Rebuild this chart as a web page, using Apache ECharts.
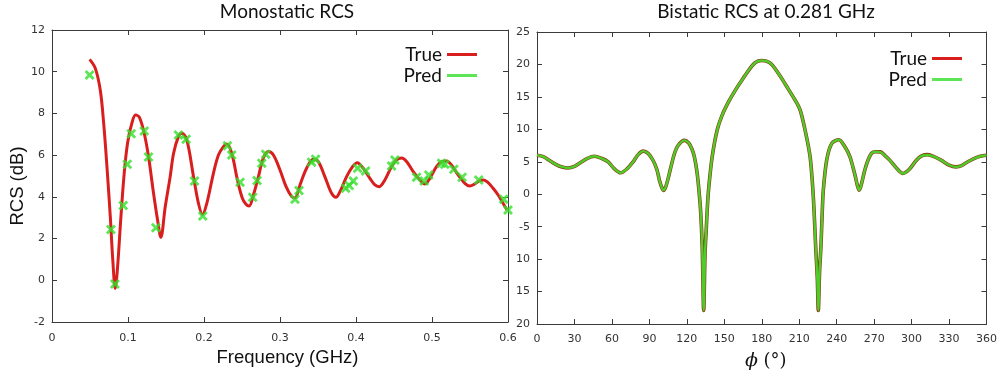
<!DOCTYPE html>
<html>
<head>
<meta charset="utf-8">
<script src="https://cdn.jsdelivr.net/npm/echarts@6/dist/echarts.min.js"></script>
<style>
  html, body { margin: 0; padding: 0; background: #fff; }
  #main { width: 1000px; height: 377px; }
</style>
</head>
<body>
<div id="main"></div>
<script>
// monostatic RCS (left)
const freqTrue = [0.0495, 0.057, 0.0635, 0.068, 0.0723, 0.0767, 0.080, 0.0832, 0.0863, 0.0907, 0.095, 0.0994, 0.105, 0.110, 0.115, 0.1213, 0.127, 0.1336, 0.1389, 0.1432, 0.149, 0.1555, 0.160, 0.1664, 0.171, 0.1774, 0.1862, 0.1927, 0.198, 0.2037, 0.2124, 0.219, 0.2256, 0.230, 0.2365, 0.244, 0.2505, 0.255, 0.2593, 0.265, 0.2716, 0.278, 0.2847, 0.2913, 0.300, 0.308, 0.3154, 0.3197, 0.3263, 0.335, 0.3438, 0.3504, 0.359, 0.3679, 0.3736, 0.3789, 0.3876, 0.3955, 0.4017, 0.4095, 0.4183, 0.4249, 0.4306, 0.438, 0.4468, 0.4533, 0.460, 0.4665, 0.4753, 0.484, 0.4906, 0.4972, 0.5059, 0.5125, 0.519, 0.5256, 0.5344, 0.5432, 0.5497, 0.5563, 0.5629, 0.568, 0.5738, 0.5804, 0.587, 0.5935, 0.5988];
const rcsTrue = [10.59, 10.16, 9.12, 7.52, 5.45, 3.05, 0.97, -0.39, 0.65, 3.05, 5.13, 6.57, 7.52, 7.92, 7.81, 7.05, 5.93, 4.17, 2.89, 2.06, 3.53, 4.97, 6.09, 6.89, 7.05, 6.73, 4.97, 3.69, 3.15, 3.69, 5.13, 6.01, 6.41, 6.53, 6.09, 4.81, 3.93, 3.66, 3.56, 4.09, 4.97, 5.85, 6.17, 6.01, 5.29, 4.49, 4.01, 3.95, 4.57, 5.37, 5.80, 5.69, 4.97, 4.17, 3.98, 4.25, 4.97, 5.45, 5.64, 5.37, 4.89, 4.57, 4.49, 4.81, 5.45, 5.77, 5.86, 5.70, 5.21, 4.81, 4.62, 4.89, 5.45, 5.69, 5.72, 5.53, 5.05, 4.65, 4.52, 4.62, 4.78, 4.81, 4.68, 4.41, 4.09, 3.69, 3.37];
const freqPred = [0.0495, 0.0775, 0.0828, 0.0937, 0.099, 0.1042, 0.1213, 0.127, 0.1367, 0.1664, 0.1765, 0.1875, 0.1984, 0.2308, 0.2365, 0.2475, 0.2641, 0.2698, 0.276, 0.2812, 0.3197, 0.325, 0.3416, 0.3469, 0.3863, 0.3911, 0.3964, 0.4021, 0.4126, 0.4468, 0.4512, 0.4797, 0.4897, 0.4958, 0.5125, 0.5169, 0.5287, 0.5396, 0.5615, 0.5944, 0.6];
const rcsPred = [9.84, 2.44, -0.18, 3.59, 5.56, 7.03, 7.16, 5.91, 2.52, 6.97, 6.76, 4.76, 3.08, 6.45, 6.01, 4.70, 3.98, 4.78, 5.61, 6.04, 3.88, 4.30, 5.66, 5.80, 4.41, 4.54, 4.76, 5.37, 5.24, 5.48, 5.77, 4.94, 4.76, 5.05, 5.61, 5.56, 5.32, 4.94, 4.81, 3.88, 3.37];

// bistatic RCS at 0.281 GHz (right)
const phiDeg = [0, 5, 10, 15, 20, 25, 30, 35, 40, 46, 52, 57, 62, 67, 72, 77, 81, 85, 89, 93, 96, 98, 100, 101.5, 103, 105, 107, 110, 113, 118, 121.5, 124, 126, 128, 129.5, 131, 132.3, 133.5, 134.6, 135.5, 136.5, 137.6, 140.3, 144.3, 148.3, 153.6, 158.9, 164.2, 169.5, 174.9, 180, 186.8, 193.4, 200, 206.7, 210.7, 214.7, 218.7, 221.3, 223.2, 224.5, 225.3, 226.3, 227.4, 228.4, 229.3, 232, 236, 241.8, 246.6, 250.6, 253, 255, 256.8, 258, 259.5, 262.5, 265, 267.8, 271, 275, 278.5, 282.5, 288, 293, 298, 303.7, 308, 313, 318, 323.6, 330, 335.5, 340, 345, 350, 355, 360];
const bistaticTrue = [6.0, 5.8, 5.2, 4.6, 4.2, 4.05, 4.3, 4.9, 5.5, 5.86, 5.5, 4.98, 3.9, 3.3, 3.9, 5.0, 6.1, 6.64, 6.3, 5.2, 3.8, 2.2, 1.0, 0.6, 1.1, 2.4, 4.0, 6.2, 7.5, 8.3, 7.9, 7.0, 5.8, 3.6, 1.0, -2.5, -8.0, -17.9, -9.0, -5.6, -1.8, 1.1, 5.76, 9.9, 12.2, 14.3, 16.05, 17.6, 19.1, 20.3, 20.6, 20.2, 18.6, 16.6, 14.5, 13.0, 9.9, 5.8, -0.4, -8.1, -13.0, -17.9, -12.0, -8.1, -3.0, 0.6, 5.25, 7.8, 8.4, 7.3, 5.8, 4.2, 2.7, 1.2, 0.62, 1.3, 3.7, 5.2, 6.28, 6.55, 6.53, 6.0, 5.25, 4.0, 3.2, 3.8, 5.2, 5.9, 6.1, 5.8, 5.25, 4.5, 4.22, 4.4, 5.0, 5.5, 5.85, 6.0];
const bistaticPred = [6.0, 5.8, 5.2, 4.6, 4.2, 4.05, 4.3, 4.9, 5.5, 5.86, 5.5, 4.98, 3.9, 3.3, 3.9, 5.0, 6.1, 6.64, 6.3, 5.2, 3.8, 2.2, 1.0, 0.6, 1.1, 2.4, 4.0, 6.2, 7.5, 8.3, 7.9, 7.0, 5.8, 3.6, 1.0, -2.5, -8.0, -17.9, -9.0, -5.6, -1.8, 1.1, 5.76, 9.9, 12.2, 14.3, 16.05, 17.6, 19.1, 20.3, 20.6, 20.2, 18.6, 16.6, 14.5, 13.0, 9.9, 5.8, -0.4, -8.1, -13.0, -17.9, -12.0, -8.1, -3.0, 0.6, 5.25, 7.8, 8.4, 7.3, 5.8, 4.2, 2.7, 1.2, 0.62, 1.3, 3.7, 5.2, 6.28, 6.55, 6.5, 6.0, 5.25, 4.0, 3.2, 3.8, 5.2, 5.9, 6.05, 5.8, 5.25, 4.5, 4.2, 4.4, 5.0, 5.5, 5.85, 6.0];

// tick labels on the right y axis, as printed
const bistaticTickValues = [-20, -15, -10, -5, 0, 5, 10, 15, 20, 25];
const bistaticTickLabels = ['20', '15', '10', '-5', '0', '5', '10', '15', '20', '25'];

const zip = (xs, ys) => xs.map((x, i) => [x, ys[i]]);

const RED = '#d91e1e';
const GREEN = '#33e02a';
const AXIS = '#3a3a3a';
// bold "x" marker
const crossSymbol = 'path://M0,2L2,0L5,3L8,0L10,2L7,5L10,8L8,10L5,7L2,10L0,8L3,5Z';

function frameAxis(extra) {
    return Object.assign({
        type: 'value',
        axisLine: { show: true, onZero: false, lineStyle: { color: AXIS, width: 1 } },
        axisTick: { show: true, inside: true, length: 5, lineStyle: { color: AXIS } },
        axisLabel: { show: true, color: '#333', fontFamily: 'DejaVu Sans', fontSize: 11 },
        splitLine: { show: false }
    }, extra);
}
function mirror(extra) {
    const a = frameAxis(extra);
    a.axisLabel = { show: false };
    return a;
}

const chart = echarts.init(document.getElementById('main'), null, { renderer: 'canvas' });

const option = {
    backgroundColor: '#fff',
    animation: false,
    title: [
        { text: 'Monostatic RCS', left: 287, top: 2, textAlign: 'center', padding: 0,
          textStyle: { fontFamily: 'Lato', fontWeight: 'normal', fontSize: 19, color: '#111' } },
        { text: 'Bistatic RCS at 0.281 GHz', left: 766, top: 2, textAlign: 'center', padding: 0,
          textStyle: { fontFamily: 'Lato', fontWeight: 'normal', fontSize: 19, color: '#111' } }
    ],
    legend: [
        { orient: 'vertical', align: 'right', right: 523, top: 45, itemGap: 2, padding: 0,
          itemWidth: 30, itemHeight: 3,
          data: [{ name: 'True', icon: 'rect' }, { name: 'Pred', icon: 'rect' }],
          textStyle: { fontFamily: 'Lato', fontSize: 19, color: '#111' } },
        { orient: 'vertical', align: 'right', right: 38, top: 49, itemGap: 2, padding: 0,
          itemWidth: 30, itemHeight: 3,
          data: [{ name: 'True', icon: 'rect' }, { name: 'Pred', icon: 'rect' }],
          textStyle: { fontFamily: 'Lato', fontSize: 19, color: '#111' } }
    ],
    grid: [
        { left: 52, top: 30, width: 456, height: 292 },
        { left: 537, top: 32, width: 452, height: 292 }
    ],
    xAxis: [
        frameAxis({ gridIndex: 0, position: 'bottom', min: 0, max: 0.6, interval: 0.1,
            axisLabel: { color: '#333', fontFamily: 'DejaVu Sans', fontSize: 11, margin: 11 },
            name: 'Frequency (GHz)', nameLocation: 'middle', nameGap: 24,
            nameTextStyle: { fontFamily: 'Liberation Sans', fontSize: 18.5, color: '#111', padding: [0, 0, 0, 15] } }),
        frameAxis({ gridIndex: 1, position: 'bottom', min: 0, max: 360, interval: 30,
            axisLabel: { color: '#333', fontFamily: 'DejaVu Sans', fontSize: 11, margin: 10 },
            name: '{p|ϕ} (°)', nameLocation: 'middle', nameGap: 28,
            nameTextStyle: { fontFamily: 'DejaVu Serif', fontSize: 18, color: '#111', padding: [0, 0, 0, 8],
                rich: { p: { fontFamily: 'DejaVu Serif', fontStyle: 'italic', fontSize: 19, color: '#111' } } } }),
        mirror({ gridIndex: 0, position: 'top', min: 0, max: 0.6, interval: 0.1 }),
        mirror({ gridIndex: 1, position: 'top', min: 0, max: 360, interval: 30 })
    ],
    yAxis: [
        frameAxis({ gridIndex: 0, position: 'left', min: -2, max: 12, interval: 2,
            axisLabel: { color: '#333', fontFamily: 'DejaVu Sans', fontSize: 11, margin: 7 },
            name: 'RCS (dB)', nameLocation: 'middle', nameGap: 23,
            nameTextStyle: { fontFamily: 'Liberation Sans', fontSize: 18.5, color: '#111', padding: [0, 20, 0, 0] } }),
        frameAxis({ gridIndex: 1, position: 'left', min: -20, max: 25, interval: 5,
            axisLabel: { color: '#333', fontFamily: 'DejaVu Sans', fontSize: 11, margin: 7,
                formatter: v => {
                    const i = bistaticTickValues.indexOf(Math.round(v));
                    return i >= 0 ? bistaticTickLabels[i] : '';
                } } }),
        mirror({ gridIndex: 0, position: 'right', min: -2, max: 12, interval: 2 }),
        mirror({ gridIndex: 1, position: 'right', min: -20, max: 25, interval: 5 })
    ],
    series: [
        { name: 'True', type: 'line', xAxisIndex: 0, yAxisIndex: 0, data: zip(freqTrue, rcsTrue),
          smooth: 0.35, showSymbol: false, color: RED, lineStyle: { color: RED, width: 3 }, z: 2 },
        { name: 'Pred', type: 'scatter', xAxisIndex: 0, yAxisIndex: 0, data: zip(freqPred, rcsPred),
          symbol: crossSymbol, symbolSize: 10, color: GREEN, itemStyle: { color: GREEN }, z: 3 },
        { name: 'True', type: 'line', xAxisIndex: 1, yAxisIndex: 1, data: zip(phiDeg, bistaticTrue),
          smooth: 0.3, showSymbol: false, color: RED, lineStyle: { color: '#8a3a10', width: 3.6 }, z: 2 },
        { name: 'Pred', type: 'line', xAxisIndex: 1, yAxisIndex: 1, data: zip(phiDeg, bistaticPred),
          smooth: 0.3, showSymbol: false, color: GREEN, lineStyle: { color: '#4fcc2a', width: 2.4 }, z: 3 }
    ]
};

chart.setOption(option);
</script>
</body>
</html>
